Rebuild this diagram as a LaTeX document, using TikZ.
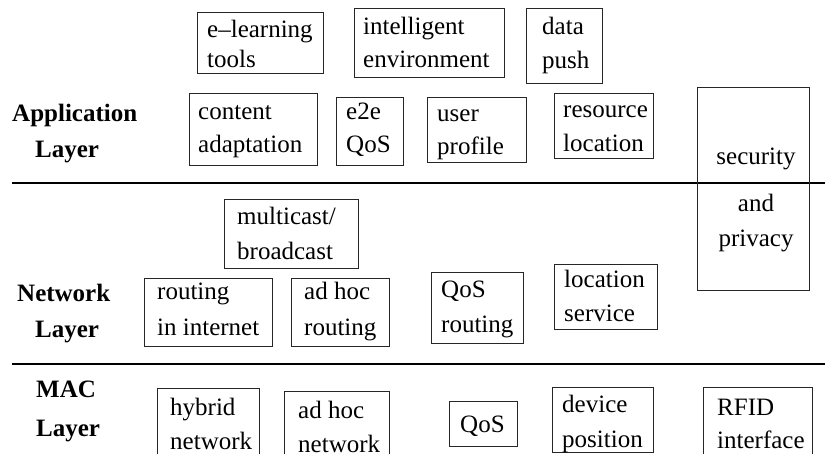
\documentclass[tikz,border=0pt]{standalone}
\usepackage{fontspec}
\setmainfont{Liberation Serif}
\begin{document}
\begin{tikzpicture}[x=1pt,y=-1pt,
  box/.style={draw=black!85, line width=0.9pt, inner sep=0pt, anchor=north west},
  txt/.style={anchor=base west, inner sep=0pt, font=\fontsize{25}{30}\selectfont},
  ctxt/.style={anchor=base, inner sep=0pt, font=\fontsize{25}{30}\selectfont},
  lay/.style={anchor=base west, inner sep=0pt, font=\fontsize{25}{30}\selectfont\bfseries},
  sep/.style={line width=2.4pt}]
\clip (0,0) rectangle (825,454);
% layer separators
\coordinate (l1a) at (12,183); \coordinate (l1b) at (826,183);
\coordinate (l2a) at (12,364); \coordinate (l2b) at (826,364);
\draw[sep] (l1a) -- (l1b);
\draw[sep] (l2a) -- (l2b);
% layer labels
\node[lay] (app1) at (12,122) {Application};
\node[lay] (app2) at (35,158) {Layer};
\node[lay] (net1) at (17,302) {Network};
\node[lay] (net2) at (35,338) {Layer};
\node[lay] (mac1) at (36,398) {MAC};
\node[lay] (mac2) at (36,436) {Layer};
% application layer
\node[box, minimum width=126, minimum height=61] (elb) at (197,12) {};
\node[txt] (el1) at (207,38) {e–learning};
\node[txt] (el2) at (207,68) {tools};
\node[box, minimum width=150, minimum height=69] (ieb) at (354,8) {};
\node[txt] (ie1) at (363,35) {intelligent};
\node[txt] (ie2) at (363,68) {environment};
\node[box, minimum width=76, minimum height=75] (dpb) at (526,8) {};
\node[txt] (dp1) at (542,35) {data};
\node[txt] (dp2) at (542,69) {push};
\node[box, minimum width=128, minimum height=72] (cab) at (189,93) {};
\node[txt] (ca1) at (198,120) {content};
\node[txt] (ca2) at (198,153) {adaptation};
\node[box, minimum width=67, minimum height=68] (eqb) at (336,97) {};
\node[txt] (eq1) at (346,120) {e2e};
\node[txt] (eq2) at (346,153) {QoS};
\node[box, minimum width=99, minimum height=65] (upb) at (427,97) {};
\node[txt] (up1) at (437,122) {user};
\node[txt] (up2) at (437,155) {profile};
\node[box, minimum width=99, minimum height=65] (rlb) at (554,93) {};
\node[txt] (rl1) at (563,118) {resource};
\node[txt] (rl2) at (563,152) {location};
\node[box, minimum width=112, minimum height=203] (spb) at (697,87) {};
\node[ctxt] (sp1) at (756,165) {security};
\node[ctxt] (sp2) at (756,212) {and};
\node[ctxt] (sp3) at (756,247) {privacy};
% network layer
\node[box, minimum width=134, minimum height=69] (mbb) at (224,199) {};
\node[txt] (mb1) at (237,225) {multicast/};
\node[txt] (mb2) at (237,260) {broadcast};
\node[box, minimum width=128, minimum height=68] (rib) at (144,278) {};
\node[txt] (ri1) at (157,300) {routing};
\node[txt] (ri2) at (157,336) {in internet};
\node[box, minimum width=98, minimum height=68] (ahb) at (291,278) {};
\node[txt] (ah1) at (304,300) {ad hoc};
\node[txt] (ah2) at (304,336) {routing};
\node[box, minimum width=92, minimum height=71] (qrb) at (431,272) {};
\node[txt] (qr1) at (441,298) {QoS};
\node[txt] (qr2) at (441,333) {routing};
\node[box, minimum width=103, minimum height=65] (lsb) at (554,264) {};
\node[txt] (ls1) at (564,288) {location};
\node[txt] (ls2) at (564,322) {service};
% MAC layer
\node[box, minimum width=102, minimum height=90] (hnb) at (157,388) {};
\node[txt] (hn1) at (170,415) {hybrid};
\node[txt] (hn2) at (170,449) {network};
\node[box, minimum width=105, minimum height=90] (anb) at (284,391) {};
\node[txt] (an1) at (298,418) {ad hoc};
\node[txt] (an2) at (298,452) {network};
\node[box, minimum width=68, minimum height=45] (qmb) at (449,401) {};
\node[txt] (qm1) at (460,432) {QoS};
\node[box, minimum width=101, minimum height=65] (dvb) at (552,387) {};
\node[txt] (dv1) at (562,413) {device};
\node[txt] (dv2) at (562,447) {position};
\node[box, minimum width=109, minimum height=90] (rfb) at (703,387) {};
\node[txt] (rf1) at (717,415) {RFID};
\node[txt] (rf2) at (717,448) {interface};
\end{tikzpicture}
\end{document}
